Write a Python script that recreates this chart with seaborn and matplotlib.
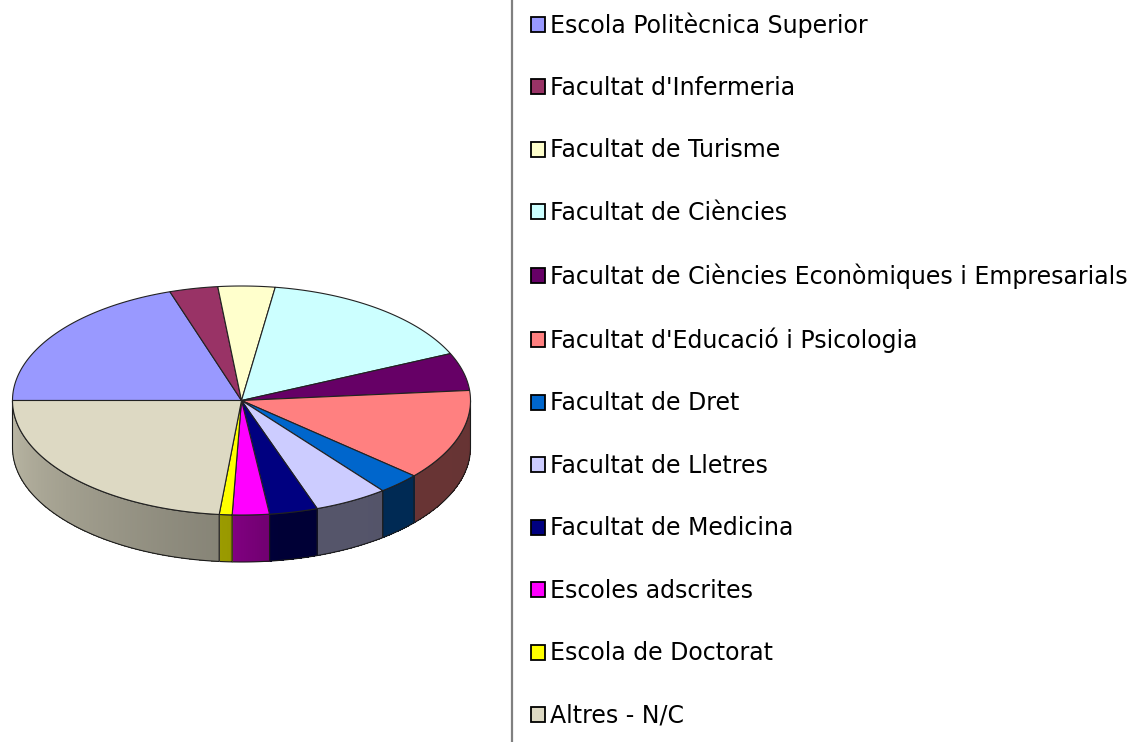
import numpy as np
import matplotlib
matplotlib.use("Agg")
import matplotlib.pyplot as plt
from matplotlib.patches import Polygon, Patch
from matplotlib.collections import PolyCollection
from matplotlib.colors import to_rgb
import seaborn as sns

# Slices in drawing order (clockwise, starting at 9 o'clock)
schools = [
    "Escola Politècnica Superior",
    "Facultat d'Infermeria",
    "Facultat de Turisme",
    "Facultat de Ciències",
    "Facultat de Ciències Econòmiques i Empresarials",
    "Facultat d'Educació i Psicologia",
    "Facultat de Dret",
    "Facultat de Lletres",
    "Facultat de Medicina",
    "Escoles adscrites",
    "Escola de Doctorat",
    "Altres - N/C",
]
shares = [19.9, 3.4, 4.0, 15.9, 5.3, 12.8, 3.0, 5.2, 3.4, 2.6, 0.9, 23.4]
colours = ["#9999FF", "#993366", "#FFFFCC", "#CCFFFF", "#660066", "#FF8080",
           "#0066CC", "#CCCCFF", "#000080", "#FF00FF", "#FFFF00", "#DDD9C3"]

sns.set_style("white")
plt.rcParams['font.family'] = ['DejaVu Sans']

fig = plt.figure(figsize=(11.42, 7.42), dpi=100)
ax = fig.add_axes([0, 0, 1, 1])
ax.set_xlim(0, 1142)
ax.set_ylim(742, 0)
ax.axis('off')

# pie geometry (pixels)
cx, cy, rx, ry, depth = 241.5, 400.5, 229, 114.5, 47
start = 180.0

fracs = np.array(shares) / sum(shares)
bounds = start - 360 * np.concatenate([[0], np.cumsum(fracs)])


def rim(t, dy=0.0):
    r = np.radians(t)
    return np.column_stack([cx + rx * np.cos(r), cy - ry * np.sin(r) + dy])


def shade(t):
    # side walls: light on the left, dark from the front to the right
    return np.interp(t, [-180, -93, -92, -80, 0], [0.85, 0.6, 0.5, 0.42, 0.4])


# front side walls
for i, col in enumerate(colours):
    a1, a2 = bounds[i], bounds[i + 1]
    hi, lo = min(a1, 0), max(a2, -180)
    if hi <= lo:
        continue
    base = np.array(to_rgb(col))
    ts = np.linspace(hi, lo, max(2, int((hi - lo) * 2)))
    strips, cols = [], []
    for t0, t1 in zip(ts[:-1], ts[1:]):
        strips.append(np.vstack([rim([t0, t1]), rim([t1, t0], depth)]))
        cols.append(base * shade((t0 + t1) / 2))
    ax.add_collection(PolyCollection(strips, facecolors=cols, edgecolors='none',
                                     antialiased=False))
    arc = np.linspace(hi, lo, 120)
    wall = np.vstack([rim(arc), rim(arc[::-1], depth)])
    ax.add_patch(Polygon(wall, closed=True, facecolor='none', edgecolor='#1a1a1a', lw=0.8))

# top face
for i, col in enumerate(colours):
    arc = np.linspace(bounds[i], bounds[i + 1], 150)
    pts = np.vstack([[cx, cy], rim(arc)])
    ax.add_patch(Polygon(pts, closed=True, facecolor=col, edgecolor='#222222', lw=0.8))

ax.axvline(512, color='#808080', lw=1.6)

handles = [Patch(facecolor=c, edgecolor='black', linewidth=1.3, label=s)
           for s, c in zip(schools, colours)]
fig.legend(handles=handles, loc='upper left',
           bbox_to_anchor=(531 / 1142, 1 - 12 / 742),
           frameon=False, fontsize=17.0, borderpad=0, borderaxespad=0,
           handlelength=0.6, handleheight=0.6, handletextpad=0.2,
           labelspacing=1.63, labelcolor='black')

fig.savefig("out.png", dpi=100)
